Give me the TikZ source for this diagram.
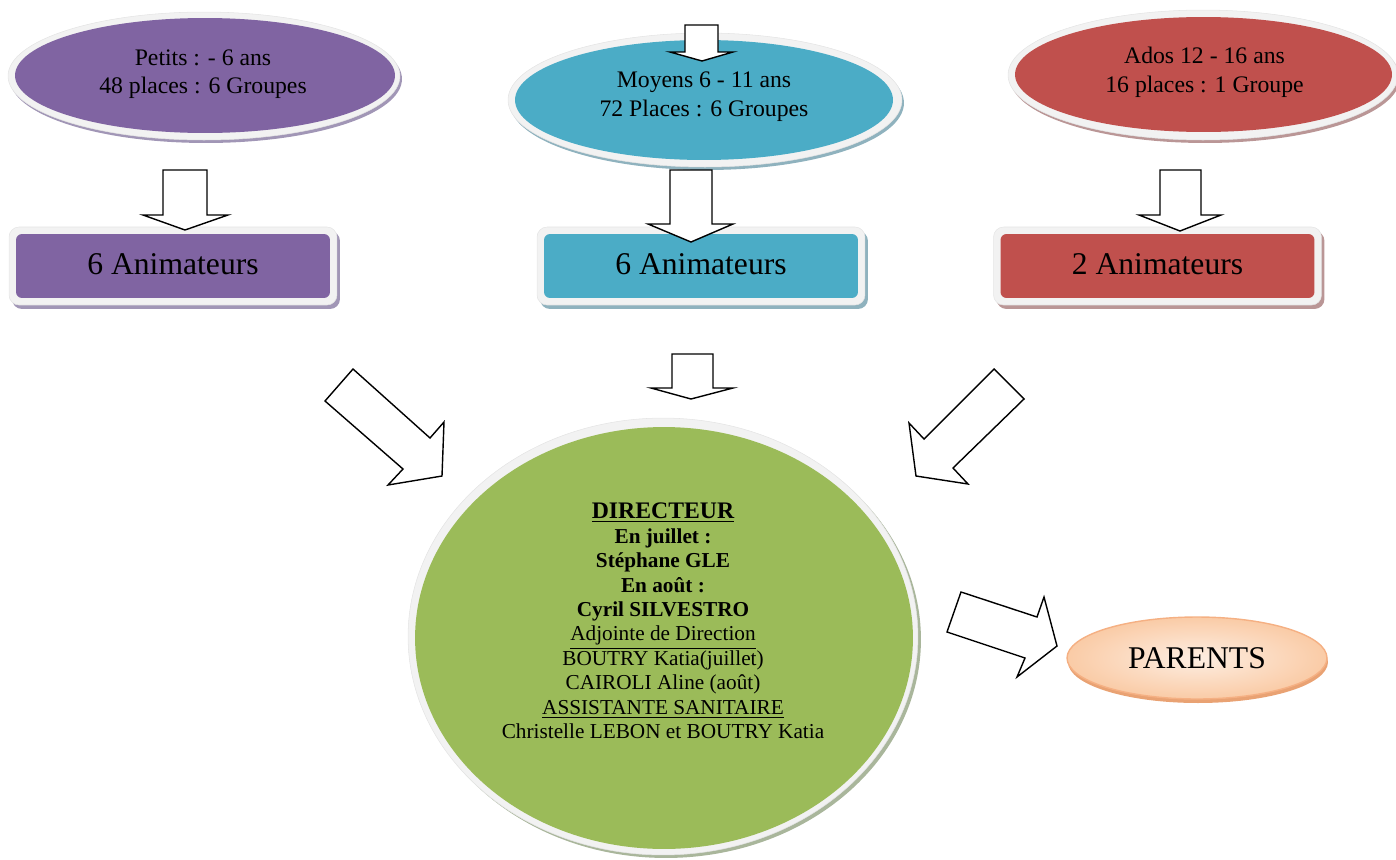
\documentclass[tikz,border=0pt]{standalone}
\usepackage{fontspec}
\setmainfont{Liberation Serif}
\usetikzlibrary{shapes.geometric}
\definecolor{purpleF}{HTML}{8064A2}
\definecolor{purpleS}{HTML}{A196B6}
\definecolor{tealF}{HTML}{4BACC6}
\definecolor{tealS}{HTML}{8FB2BE}
\definecolor{redF}{HTML}{C0504D}
\definecolor{redS}{HTML}{BA9696}
\definecolor{greenF}{HTML}{9BBB59}
\definecolor{greenS}{HTML}{A9B69B}
\definecolor{ringC}{HTML}{F2F2F2}
\definecolor{ringD}{HTML}{E4E4E4}
\definecolor{peachIn}{HTML}{FDEEE2}
\definecolor{peachOut}{HTML}{FACBA6}
\definecolor{peachEdge}{HTML}{F5B083}
\definecolor{peachDark}{HTML}{E9A273}
\begin{document}
\begin{tikzpicture}[x=0.02cm,y=-0.02cm,
  shE/.style={ellipse, fill=#1, inner sep=0pt},
  rgE/.style={ellipse, fill=ringC, draw=ringD, line width=0.3pt, inner sep=0pt},
  fE/.style={ellipse, fill=#1, inner sep=0pt},
  shB/.style={rectangle, rounded corners=0.2cm, fill=#1, inner sep=0pt, minimum width=6.56cm, minimum height=1.56cm},
  rgB/.style={rectangle, rounded corners=0.2cm, fill=ringC, draw=ringD, line width=0.3pt, inner sep=0pt, minimum width=6.56cm, minimum height=1.56cm},
  fB/.style={rectangle, rounded corners=0.12cm, fill=#1, inner sep=0pt, minimum width=6.28cm, minimum height=1.28cm,
    font=\fontsize{18}{21}\selectfont, text height=12.2pt, text depth=2.6pt},
  etext/.style={align=center, inner sep=0pt, font=\fontsize{13.5}{16.2}\selectfont},
  blockarr/.style={draw=black, fill=white, line width=0.8pt, line join=miter}
]
\useasboundingbox (0,0) rectangle (1396,859);

% ---------- top ellipses ----------
\node[shE=purpleS, minimum width=7.84cm, minimum height=2.56cm] (petitsSh) at (206,79) {};
\node[rgE, minimum width=7.84cm, minimum height=2.56cm] (petitsRing) at (204,76) {};
\node[fE=purpleF, minimum width=7.6cm, minimum height=2.3cm] (petits) at (205,75.5) {};
\node[etext] (petitsTxt) at (203,74) {Petits : - 6 ans\\48 places : 6 Groupes};

\node[shE=tealS, minimum width=7.88cm, minimum height=2.68cm] (moyensSh) at (707,103) {};
\node[rgE, minimum width=7.88cm, minimum height=2.68cm] (moyensRing) at (705,100) {};
\node[fE=tealF, minimum width=7.56cm, minimum height=2.4cm] (moyens) at (704,100) {};
\node[etext] (moyensTxt) at (704,96.5) {Moyens 6 - 11 ans\\72 Places : 6 Groupes};

\node[shE=redS, minimum width=7.8cm, minimum height=2.6cm] (adosSh) at (1205,78) {};
\node[rgE, minimum width=7.8cm, minimum height=2.6cm] (adosRing) at (1203,75) {};
\node[fE=redF, minimum width=7.54cm, minimum height=2.3cm] (ados) at (1203.5,74.5) {};
\node[etext] (adosTxt) at (1204.5,72.5) {Ados 12 - 16 ans\\16 places : 1 Groupe};

% arrow on top of Moyens
\draw[blockarr] (685,25) -- (718,25) -- (718,52) -- (733,52) -- (702,61) -- (670,52) -- (685,52) -- cycle;

% ---------- boxes ----------
\node[shB=purpleS] (anim1Sh) at (176,270) {};
\node[rgB] (anim1Ring) at (173,266) {};
\node[fB=purpleF] (anim1) at (173,266) {6 Animateurs};

\node[shB=tealS] (anim2Sh) at (704,270) {};
\node[rgB] (anim2Ring) at (701,266) {};
\node[fB=tealF] (anim2) at (701,266) {6 Animateurs};

\node[shB=redS] (anim3Sh) at (1160.5,270) {};
\node[rgB] (anim3Ring) at (1157.5,266) {};
\node[fB=redF] (anim3) at (1157.5,266) {2 Animateurs};

% arrows ellipses -> boxes
\draw[blockarr] (163,170) -- (207,170) -- (207,215) -- (228,215) -- (185,230) -- (143,215) -- (163,215) -- cycle;
\draw[blockarr] (670,170) -- (712,170) -- (712,224) -- (733,224) -- (691,242) -- (648,224) -- (670,224) -- cycle;
\draw[blockarr] (1160,170) -- (1201,170) -- (1201,215) -- (1221,215) -- (1180,231) -- (1139,215) -- (1160,215) -- cycle;

% ---------- lower arrows ----------
\draw[blockarr] (353,369) -- (430,438) -- (444,422) -- (442,476) -- (388,485) -- (403,469) -- (325,401) -- cycle;
\draw[blockarr] (672,354) -- (713,354) -- (713,388) -- (733,388) -- (691,399) -- (651,388) -- (672,388) -- cycle;
\draw[blockarr] (994,369) -- (1024,399) -- (953,468) -- (968,484) -- (916,476) -- (909,423) -- (924,439) -- cycle;

% ---------- director circle ----------
\node[shE=greenS, minimum width=10.2cm, minimum height=8.74cm] (dirSh) at (666,639.5) {};
\node[rgE, minimum width=10.2cm, minimum height=8.74cm] (dirRing) at (663,636.5) {};
\node[fE=greenF, minimum width=9.96cm, minimum height=8.44cm] (dir) at (664,638) {};
\node[align=center, inner sep=0pt, font=\fontsize{12.1}{13.9}\selectfont] (dirTxt) at (663,621)
  {{\fontsize{13.5}{13.9}\selectfont\textbf{\underline{DIRECTEUR}}}\\
   \textbf{En juillet :}\\
   \textbf{Stéphane GLE}\\
   \textbf{En août :}\\
   \textbf{Cyril SILVESTRO}\\
   \underline{Adjointe de Direction}\\
   BOUTRY Katia(juillet)\\
   CAIROLI Aline (août)\\
   \underline{ASSISTANTE SANITAIRE}\\
   Christelle LEBON et BOUTRY Katia};

% arrow to parents
\draw[blockarr] (961,592) -- (1037,617) -- (1044,597) -- (1057,646) -- (1017,677) -- (1025,658) -- (947,632) -- cycle;

% ---------- parents ----------
\node[ellipse, fill=peachDark, inner sep=0pt, minimum width=5.2cm, minimum height=1.64cm] (parentsSh) at (1198,662) {};
\node[ellipse, draw=peachEdge, line width=0.8pt, inner color=peachIn, outer color=peachOut, inner sep=0pt,
  minimum width=5.2cm, minimum height=1.64cm, font=\fontsize{18}{21}\selectfont, text height=11.9pt, text depth=0pt]
  (parents) at (1197,658) {PARENTS};
\end{tikzpicture}
\end{document}
